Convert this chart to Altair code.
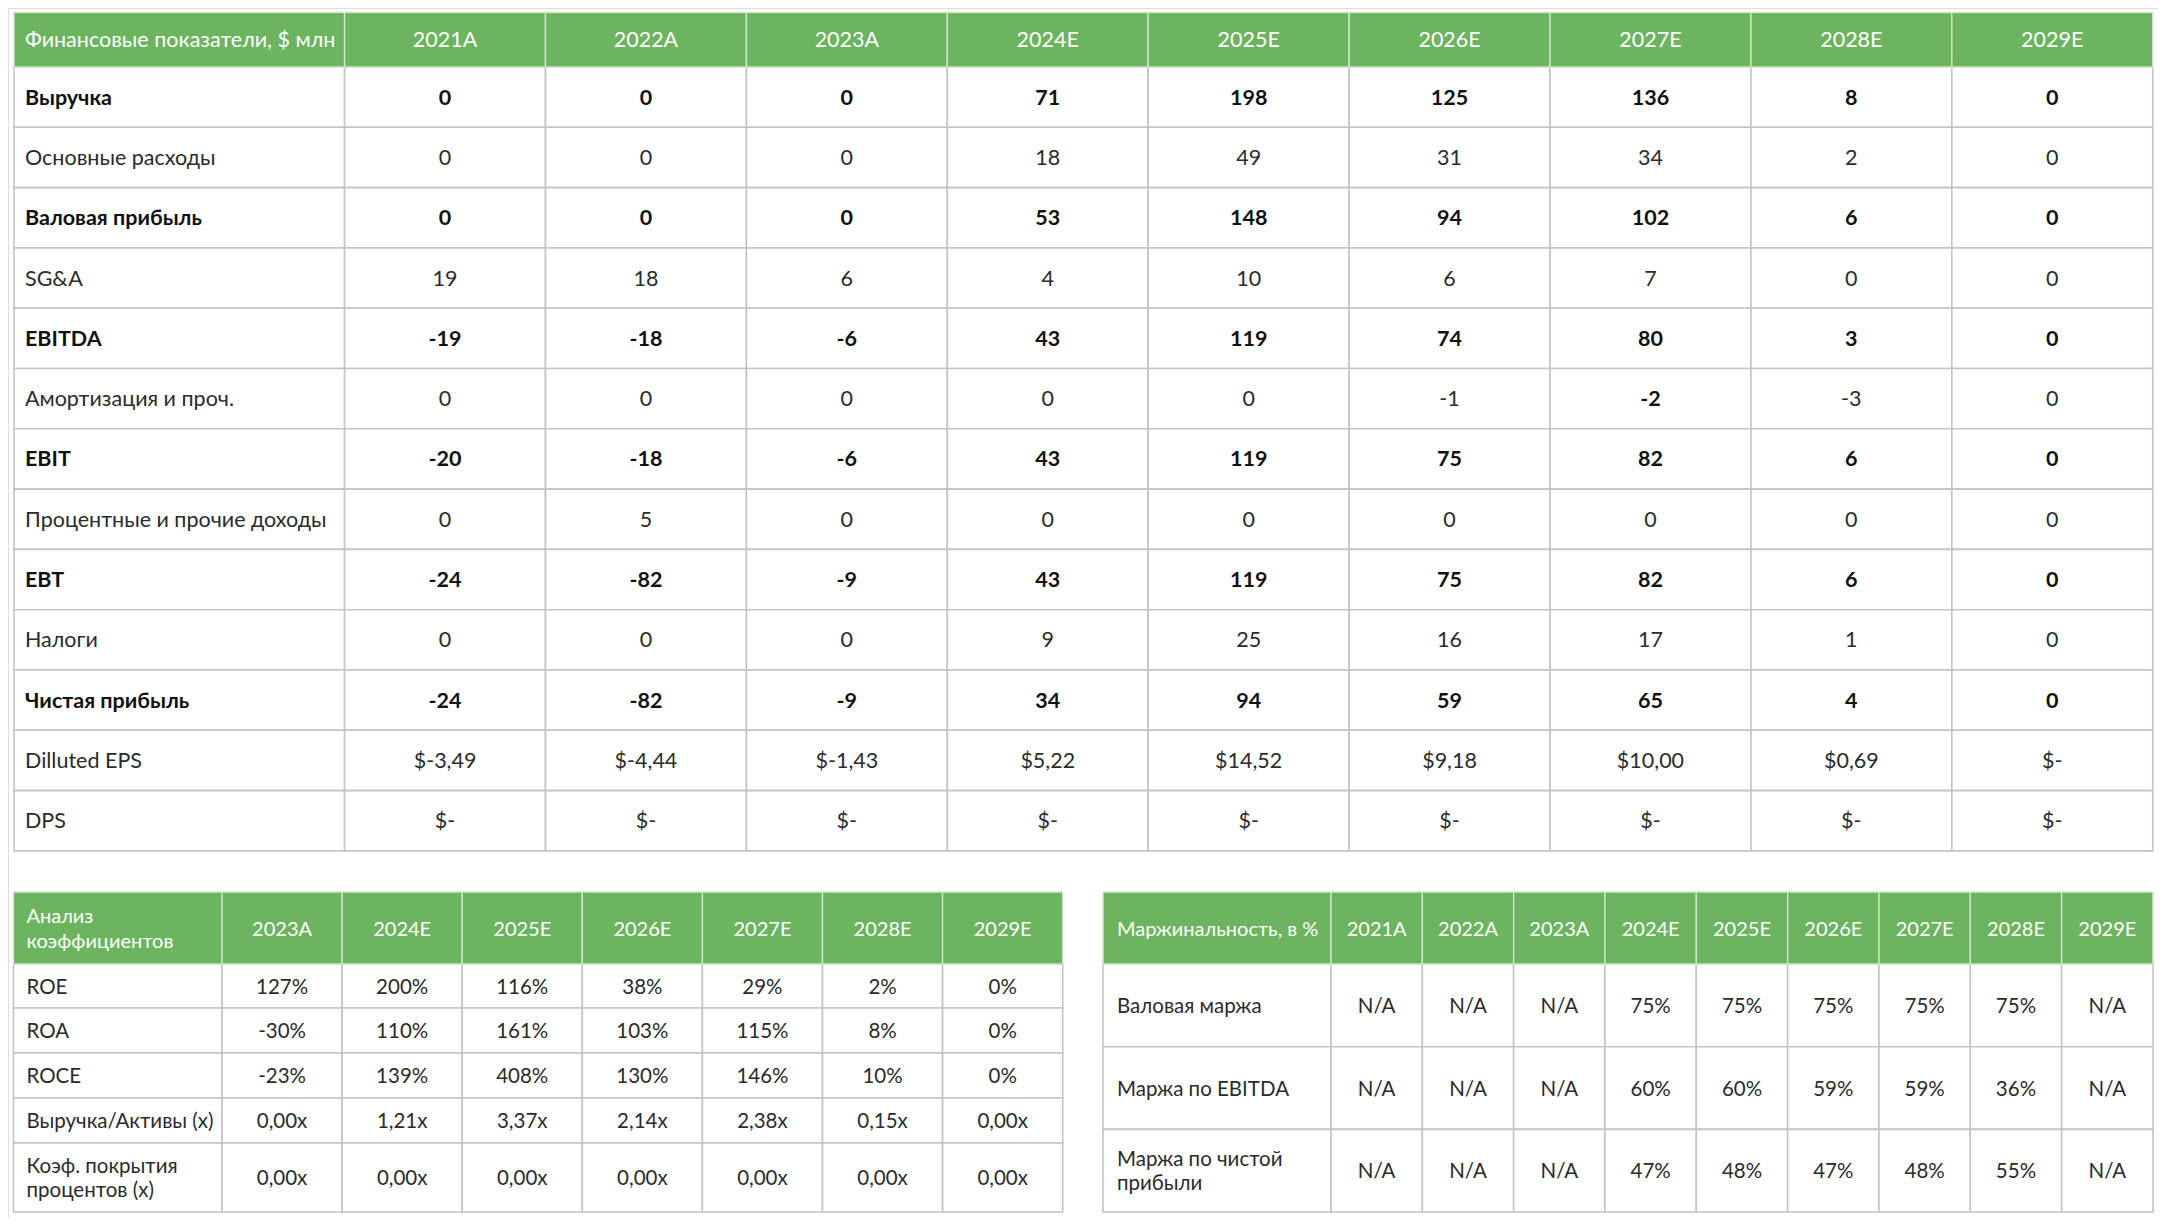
import altair as alt
import pandas as pd

# ---------------- data ----------------
years_main = ["2021A", "2022A", "2023A", "2024E", "2025E", "2026E", "2027E", "2028E", "2029E"]
main_title = "Финансовые показатели, $ млн"
main_rows = ["Выручка", "Основные расходы", "Валовая прибыль", "SG&A", "EBITDA",
             "Амортизация и проч.", "EBIT", "Процентные и прочие доходы", "EBT",
             "Налоги", "Чистая прибыль", "Dilluted EPS", "DPS"]
main_bold = [True, False, True, False, True, False, True, False, True, False, True, False, False]
revenue = [0, 0, 0, 71, 198, 125, 136, 8, 0]
cogs = [0, 0, 0, 18, 49, 31, 34, 2, 0]
gross_profit = [0, 0, 0, 53, 148, 94, 102, 6, 0]
sga = [19, 18, 6, 4, 10, 6, 7, 0, 0]
ebitda = [-19, -18, -6, 43, 119, 74, 80, 3, 0]
amort = [0, 0, 0, 0, 0, -1, -2, -3, 0]
ebit = [-20, -18, -6, 43, 119, 75, 82, 6, 0]
interest = [0, 5, 0, 0, 0, 0, 0, 0, 0]
ebt = [-24, -82, -9, 43, 119, 75, 82, 6, 0]
taxes = [0, 0, 0, 9, 25, 16, 17, 1, 0]
net_income = [-24, -82, -9, 34, 94, 59, 65, 4, 0]
eps = [-3.49, -4.44, -1.43, 5.22, 14.52, 9.18, 10.00, 0.69, None]
dps = [None, None, None, None, None, None, None, None, None]

years_ratio = ["2023A", "2024E", "2025E", "2026E", "2027E", "2028E", "2029E"]
ratio_title = "Анализ\nкоэффициентов"
ratio_rows = ["ROE", "ROA", "ROCE", "Выручка/Активы (x)", "Коэф. покрытия\nпроцентов (x)"]
roe = [127, 200, 116, 38, 29, 2, 0]
roa = [-30, 110, 161, 103, 115, 8, 0]
roce = [-23, 139, 408, 130, 146, 10, 0]
asset_turnover = [0.00, 1.21, 3.37, 2.14, 2.38, 0.15, 0.00]
interest_cover = [0.00, 0.00, 0.00, 0.00, 0.00, 0.00, 0.00]

years_margin = ["2021A", "2022A", "2023A", "2024E", "2025E", "2026E", "2027E", "2028E", "2029E"]
margin_title = "Маржинальность, в %"
margin_rows = ["Валовая маржа", "Маржа по EBITDA", "Маржа по чистой\nприбыли"]
gross_margin = [None, None, None, 75, 75, 75, 75, 75, None]
ebitda_margin = [None, None, None, 60, 60, 59, 59, 36, None]
net_margin = [None, None, None, 47, 48, 47, 48, 55, None]


# ---------------- formatting ----------------
def f_int(v):
    return str(v)


def f_usd(v):
    if v is None:
        return "$-"
    return "$" + f"{v:.2f}".replace(".", ",")


def f_pct(v):
    return "N/A" if v is None else f"{v:d}%"


def f_x(v):
    return f"{v:.2f}".replace(".", ",") + "x"


main_vals = [[f_int(v) for v in s] for s in
             [revenue, cogs, gross_profit, sga, ebitda, amort, ebit, interest, ebt, taxes, net_income]]
main_vals += [[f_usd(v) for v in eps], [f_usd(v) for v in dps]]
ratio_vals = [[f_pct(v) for v in roe], [f_pct(v) for v in roa], [f_pct(v) for v in roce],
              [f_x(v) for v in asset_turnover], [f_x(v) for v in interest_cover]]
margin_vals = [[f_pct(v) for v in gross_margin], [f_pct(v) for v in ebitda_margin],
               [f_pct(v) for v in net_margin]]

# ---------------- layout ----------------
W, H = 2150, 1210
LH = 24.5
DY = 1.5
cells = []


def ty(ymid, txt):
    n = txt.count("\n") + 1
    return ymid - (n - 1) * LH / 2 + DY


def build(x0, y0, label_w, col_w, head_h, row_hs, title, years, labels, vals, bolds,
          pad, fs_body, fs_head, bold_cells=()):
    xs = [x0, x0 + label_w] + [x0 + label_w + col_w * (i + 1) for i in range(len(years))]
    cells.append(dict(x0=xs[0], x1=xs[1], y0=y0, y1=y0 + head_h, xt=xs[0] + pad,
                      yt=ty(y0 + head_h / 2, title), text=title, kind="hdr_l", fs=fs_head))
    for i, yv in enumerate(years):
        cells.append(dict(x0=xs[i + 1], x1=xs[i + 2], y0=y0, y1=y0 + head_h,
                          xt=(xs[i + 1] + xs[i + 2]) / 2, yt=ty(y0 + head_h / 2, yv),
                          text=yv, kind="hdr_c", fs=fs_head))
    y = y0 + head_h
    for r, lab in enumerate(labels):
        h = row_hs[r]
        b = bolds[r]
        cells.append(dict(x0=xs[0], x1=xs[1], y0=y, y1=y + h, xt=xs[0] + pad,
                          yt=ty(y + h / 2, lab), text=lab,
                          kind="lab_b" if b else "lab", fs=fs_body))
        for i in range(len(years)):
            bb = b or ((r, i) in bold_cells)
            t = vals[r][i]
            cells.append(dict(x0=xs[i + 1], x1=xs[i + 2], y0=y, y1=y + h,
                              xt=(xs[i + 1] + xs[i + 2]) / 2, yt=ty(y + h / 2, t),
                              text=t, kind="val_b" if bb else "val", fs=fs_body))
        y += h


build(6, 4.5, 330.6, 200.9, 54.5, [60.3] * 13, main_title, years_main, main_rows,
      main_vals, main_bold, 11, 21.5, 21.5, bold_cells={(5, 6)})
build(5.5, 884, 208.5, 120.1, 72, [44, 45, 45, 45, 69], ratio_title, years_ratio, ratio_rows,
      ratio_vals, [False] * 5, 13, 20.5, 20)
build(1095, 884, 228, 91.33, 72, [82.7, 82.7, 82.6], margin_title, years_margin, margin_rows,
      margin_vals, [False] * 3, 14, 20.5, 20)

df = pd.DataFrame(cells)
df["hdr"] = df["kind"].str.startswith("hdr")

FONT = "Lato"
GREEN = "#6cb45f"
GRID = "#c4c4c4"

xs = alt.Scale(domain=[0, W], range=[0, W], nice=False, zero=False)
ys = alt.Scale(domain=[0, H], range=[0, H], nice=False, zero=False)
X = alt.X("x0:Q", scale=xs, axis=None)
X2 = alt.X2("x1:Q")
Y = alt.Y("y0:Q", scale=ys, axis=None)
Y2 = alt.Y2("y1:Q")

base = alt.Chart(df)

body = base.transform_filter("!datum.hdr").mark_rect(
    fill="white", stroke=GRID, strokeWidth=1.6).encode(x=X, x2=X2, y=Y, y2=Y2)
head = base.transform_filter("datum.hdr").mark_rect(
    fill=GREEN, stroke="#cfe6ca", strokeWidth=1.4).encode(x=X, x2=X2, y=Y, y2=Y2)


def text_layer(kind, align, color, weight):
    return base.transform_filter(f"datum.kind == '{kind}'").mark_text(
        align=align, baseline="middle", font=FONT, color=color, fontWeight=weight,
        lineBreak="\n", lineHeight=LH,
    ).encode(
        x=alt.X("xt:Q", scale=xs, axis=None),
        y=alt.Y("yt:Q", scale=ys, axis=None),
        text="text:N",
        size=alt.Size("fs:Q", scale=None, legend=None),
    )


layers = [
    body, head,
    text_layer("hdr_l", "left", "white", "normal"),
    text_layer("hdr_c", "center", "white", "normal"),
    text_layer("lab", "left", "#2b2b2b", "normal"),
    text_layer("lab_b", "left", "#111111", "bold"),
    text_layer("val", "center", "#2b2b2b", "normal"),
    text_layer("val_b", "center", "#111111", "bold"),
]

chart = alt.layer(*layers).properties(
    width=W, height=H, padding=0
).configure_view(stroke=None).configure(background="white")

chart.save("out.html", embed_options={"renderer": "svg", "actions": False})
